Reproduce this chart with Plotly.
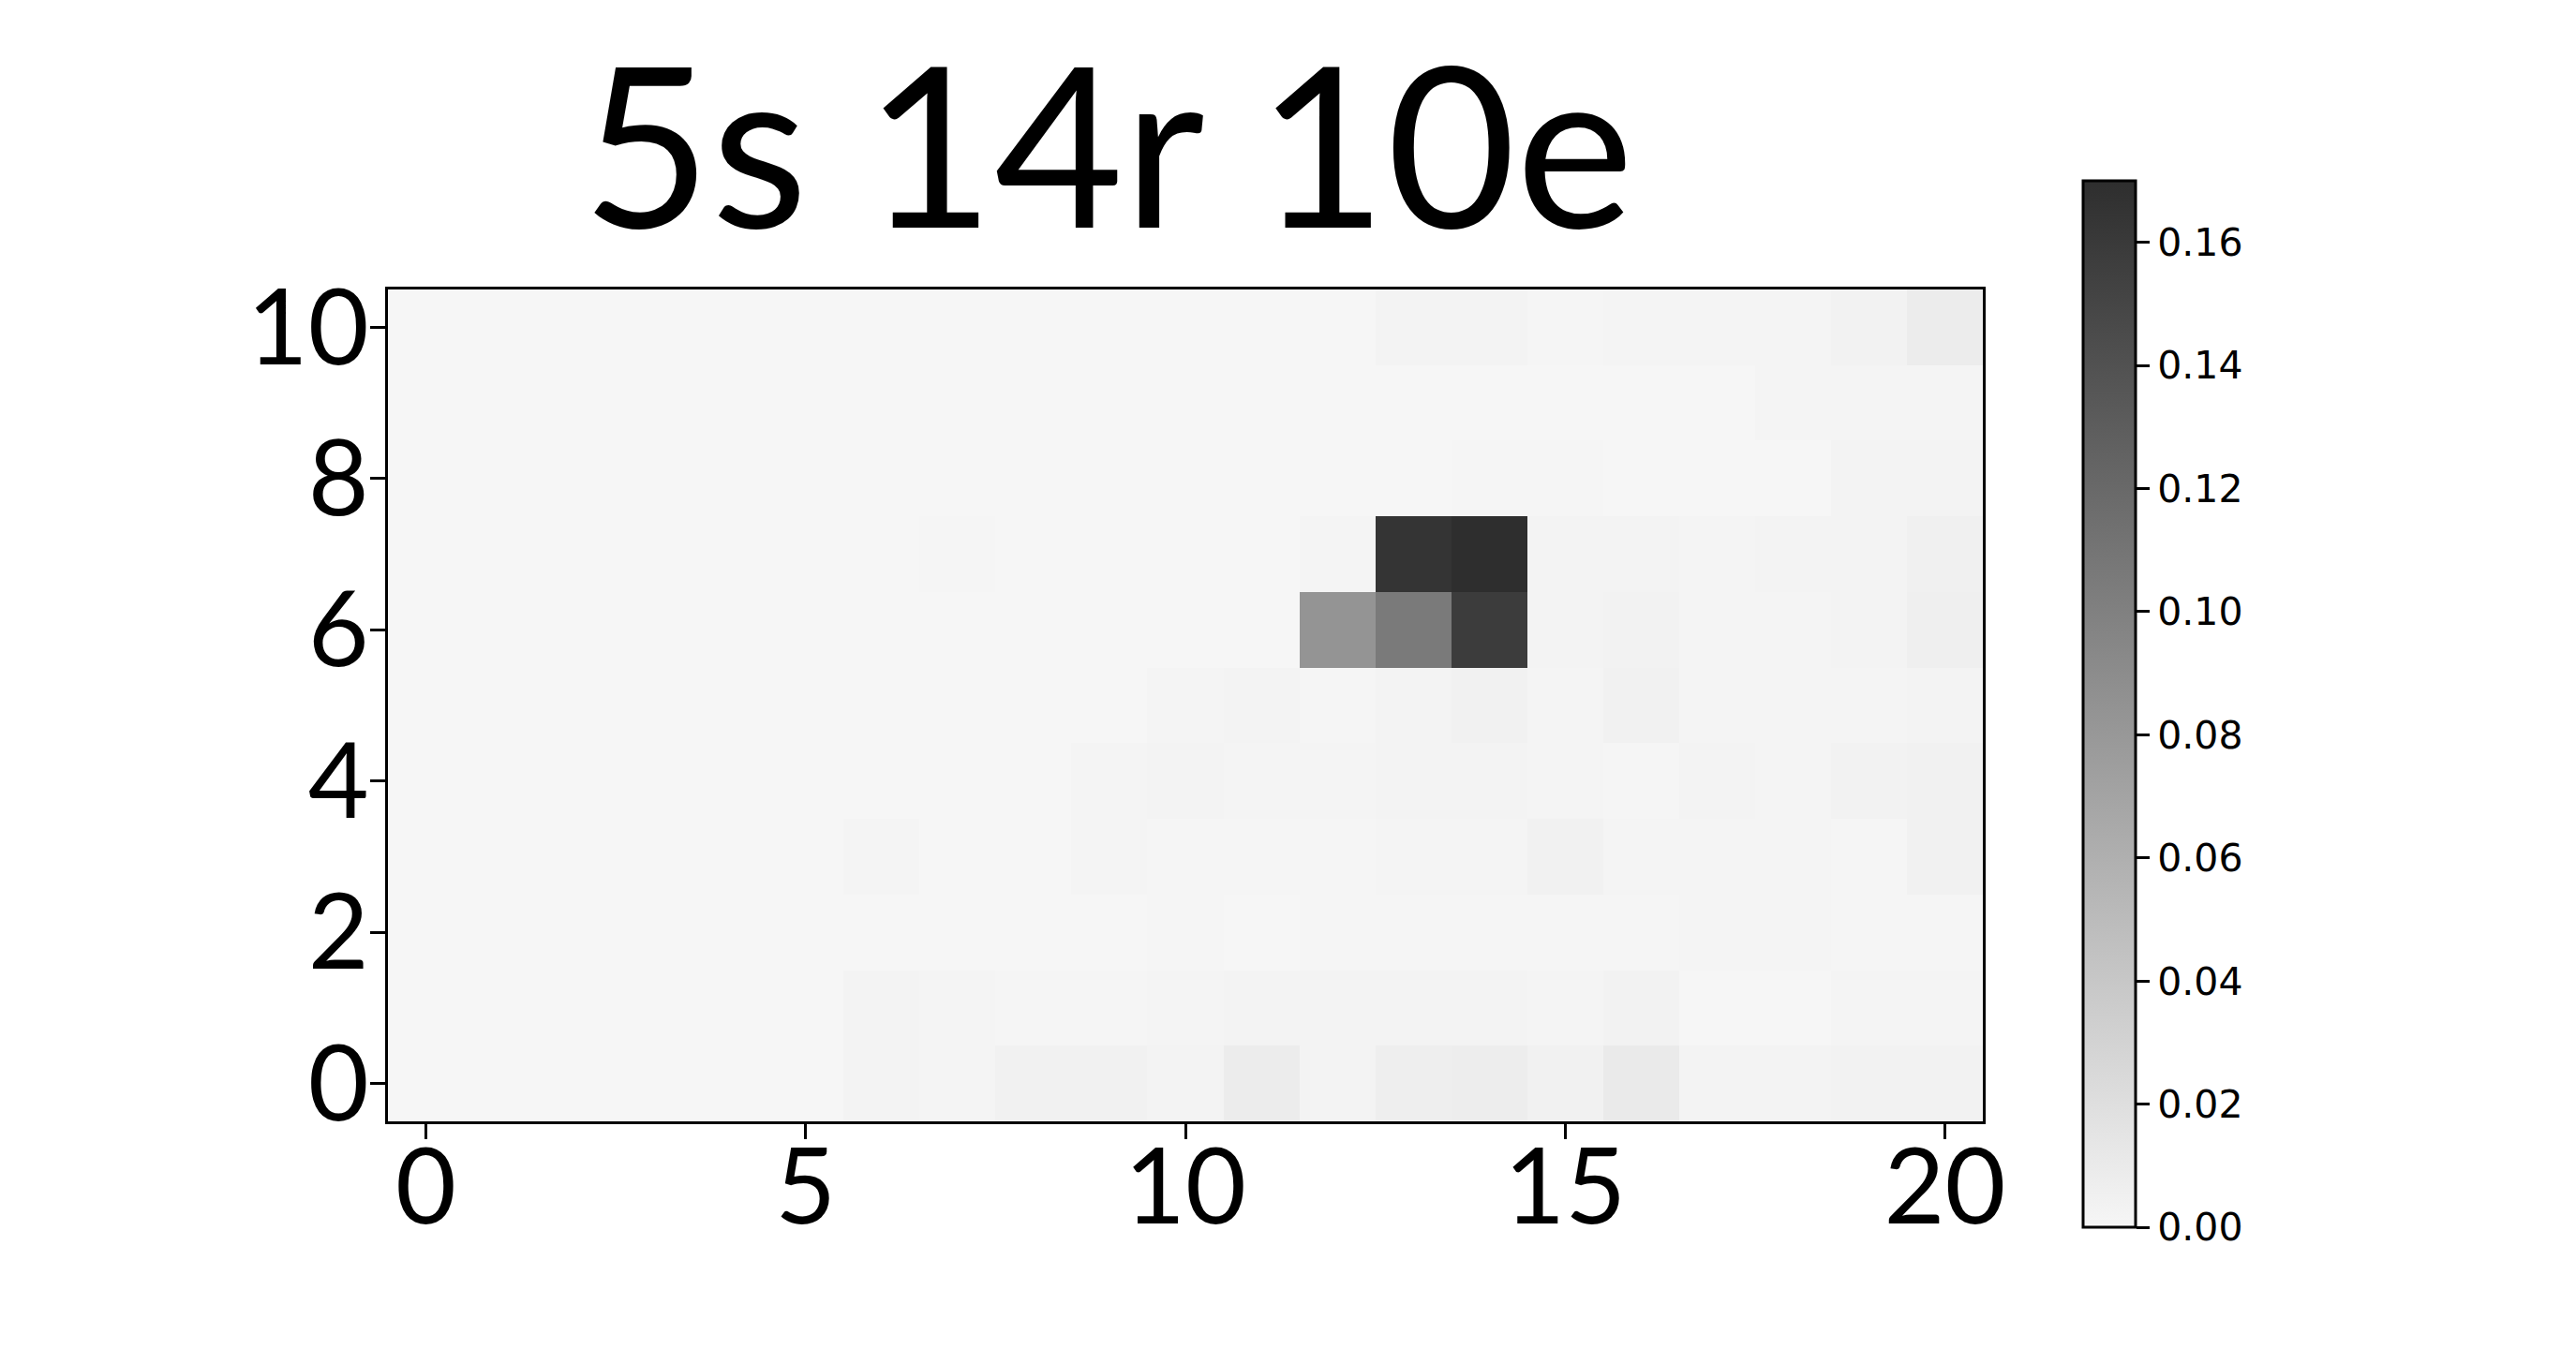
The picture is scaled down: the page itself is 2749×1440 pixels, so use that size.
import plotly.graph_objects as go

x_vals = list(range(21))
y_vals = list(range(11))

# rows y=0..10, columns x=0..20
row0 = [0, 0, 0, 0, 0, 0, 0.0026, 0.0017, 0.004, 0.004, 0.0026, 0.0085, 0.0026, 0.0068, 0.0077, 0.0043, 0.010, 0.0026, 0.0026, 0.0034, 0.0034]
row1 = [0, 0, 0, 0, 0, 0, 0.0026, 0.0017, 0.0009, 0.0009, 0.0017, 0.0026, 0.0026, 0.0026, 0.0026, 0.0017, 0.0034, 0, 0, 0.0017, 0.0017]
row2 = [0, 0, 0, 0, 0, 0, 0, 0, 0, 0, 0.0009, 0, 0.0009, 0.0009, 0.0009, 0.0009, 0.0009, 0.0017, 0.0017, 0.0009, 0.0009]
row3 = [0, 0, 0, 0, 0, 0, 0.0017, 0, 0, 0.0017, 0.0009, 0.0009, 0.0009, 0.0017, 0.0017, 0.0043, 0.0017, 0.0017, 0.0017, 0.0009, 0.0043]
row4 = [0, 0, 0, 0, 0, 0, 0, 0, 0, 0.0017, 0.0026, 0.0017, 0.0017, 0.0026, 0.0026, 0.0017, 0.0009, 0.0026, 0.0017, 0.0034, 0.0043]
row5 = [0, 0, 0, 0, 0, 0, 0, 0, 0, 0, 0.0017, 0.0026, 0.0009, 0.0026, 0.0043, 0.0017, 0.0043, 0.0017, 0.0017, 0.0017, 0.0026]
row6 = [0, 0, 0, 0, 0, 0, 0, 0, 0, 0, 0, 0, 0.083, 0.105, 0.158, 0.0026, 0.0034, 0.0017, 0.0017, 0.0026, 0.006]
row7 = [0, 0, 0, 0, 0, 0, 0, 0.0009, 0, 0, 0, 0, 0.0017, 0.165, 0.170, 0.0026, 0.0026, 0.0017, 0.0026, 0.0026, 0.0051]
row8 = [0, 0, 0, 0, 0, 0, 0, 0, 0, 0, 0, 0, 0, 0, 0.0009, 0.0009, 0, 0, 0, 0.0026, 0.0026]
row9 = [0, 0, 0, 0, 0, 0, 0, 0, 0, 0, 0, 0, 0, 0, 0, 0, 0, 0, 0.0017, 0.0017, 0.0017]
row10 = [0, 0, 0, 0, 0, 0, 0, 0, 0, 0, 0, 0, 0, 0.0026, 0.0026, 0.0009, 0.0017, 0.0017, 0.0017, 0.0034, 0.0085]
z = [row0, row1, row2, row3, row4, row5, row6, row7, row8, row9, row10]

title_text = "5s 14r 10e"
x_ticks = [0, 5, 10, 15, 20]
y_ticks = [0, 2, 4, 6, 8, 10]
cb_ticks = [0.00, 0.02, 0.04, 0.06, 0.08, 0.10, 0.12, 0.14, 0.16]

W, H = 2749, 1440
TICKFONT = "Lato"

fig = go.Figure(go.Heatmap(
    x=x_vals, y=y_vals, z=z,
    zmin=0, zmax=0.17,
    colorscale=[[0, "rgb(246,246,246)"], [1, "rgb(46,46,46)"]],
    showscale=True,
    colorbar=dict(
        x=2223 / W, xanchor="left",
        y=1 - 751.5 / H, yanchor="middle",
        lenmode="pixels", len=1117,
        thicknessmode="pixels", thickness=56,
        outlinewidth=3, outlinecolor="black",
        ticks="outside", ticklen=14, tickwidth=3, tickcolor="black",
        tickvals=cb_ticks, tickformat=".2f",
        tickfont=dict(family="DejaVu Sans", size=41, color="black"),
        xpad=0, ypad=0,
    ),
))

fig.update_layout(
    width=W, height=H,
    margin=dict(l=0, r=0, t=0, b=0, autoexpand=False),
    paper_bgcolor="white", plot_bgcolor="white",
    xaxis=dict(
        domain=[414 / W, 2116 / W], range=[-0.5, 20.5], automargin=False,
        tickvals=x_ticks, ticks="outside", ticklen=16, tickwidth=3, tickcolor="black",
        ticklabelstandoff=-44,
        showline=True, linecolor="black", linewidth=3, mirror=True,
        showgrid=False, zeroline=False,
        tickfont=dict(family=TICKFONT, size=112, color="black"),
    ),
    yaxis=dict(
        domain=[1 - 1197 / H, 1 - 309 / H], range=[-0.5, 10.5], automargin=False,
        tickvals=y_ticks, ticks="outside", ticklen=16, tickwidth=3, tickcolor="black",
        ticklabelstandoff=-21,
        showline=True, linecolor="black", linewidth=3, mirror=True,
        showgrid=False, zeroline=False,
        tickfont=dict(family=TICKFONT, size=112, color="black"),
    ),
    annotations=[dict(
        text=title_text, xref="paper", yref="paper",
        x=1182 / W, y=1 - 151 / H, xanchor="center", yanchor="middle",
        showarrow=False,
        font=dict(family=TICKFONT, size=238, color="black"),
    )],
)

fig.write_html("out.html")
